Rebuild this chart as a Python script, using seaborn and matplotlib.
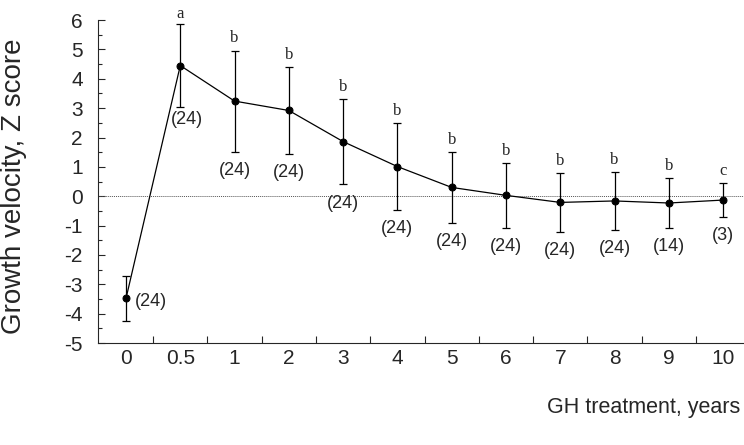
import numpy as np
import pandas as pd
import matplotlib
matplotlib.use("Agg")
import matplotlib.pyplot as plt
import seaborn as sns

# data
years = ["0", "0.5", "1", "2", "3", "4", "5", "6", "7", "8", "9", "10"]
mean_z = [-3.48, 4.45, 3.24, 2.92, 1.86, 1.01, 0.30, 0.03, -0.21, -0.16, -0.23, -0.13]
sd_z = [0.78, 1.41, 1.72, 1.48, 1.46, 1.48, 1.20, 1.10, 1.00, 0.98, 0.84, 0.58]
n_labels = ["(24)", "(24)", "(24)", "(24)", "(24)", "(24)", "(24)", "(24)", "(24)", "(24)", "(14)", "(3)"]
sig_letters = ["", "a", "b", "b", "b", "b", "b", "b", "b", "b", "b", "c"]

sns.set_theme(style="ticks")
plt.rcParams['font.family'] = ['Liberation Sans', 'DejaVu Sans']
plt.rcParams['axes.unicode_minus'] = False

df = pd.DataFrame({"pos": np.arange(len(years)), "z": mean_z, "sd": sd_z})

fig = plt.figure(figsize=(7.44, 4.45), dpi=100)
ax = fig.add_axes([0.1317, 0.229, 0.868, 0.726])

ax.axhline(0, color="#555555", lw=0.7, ls=(0, (1, 1)), zorder=1)
ax.errorbar(df["pos"], df["z"], yerr=df["sd"], fmt="none", ecolor="black",
            elinewidth=0.9, capsize=3, capthick=0.9, zorder=2)
sns.lineplot(data=df, x="pos", y="z", ax=ax, color="black", lw=0.9,
             marker="o", markersize=5, markeredgecolor="black", zorder=3)

for i, (m, s) in enumerate(zip(mean_z, sd_z)):
    if sig_letters[i]:
        ax.text(i, m + s + (0.08 if i == 1 else 0.14), sig_letters[i], ha="center", va="bottom",
                fontsize=12, family="Liberation Serif")
    if i == 0:
        ax.text(i + 0.17, m - 0.1, n_labels[i], ha="left", va="center", fontsize=13)
    elif i == 1:
        ax.text(i + 0.12, m - s - 0.15, n_labels[i], ha="center", va="top", fontsize=13)
    else:
        ax.text(i, m - s - 0.35, n_labels[i], ha="center", va="top", fontsize=13)

ax.set_xlim(-0.516, 11.38)
ax.set_ylim(-5, 6)
ax.set_xticks(np.arange(len(years)))
ax.set_xticklabels(years)
ax.set_xticks(np.arange(len(years) - 1) + 0.5, minor=True)
ax.tick_params(axis="x", which="major", length=0, pad=4, labelsize=15)
ax.tick_params(axis="x", which="minor", direction="in", length=5, width=0.8)
ax.set_yticks(np.arange(-5, 7, 1))
ax.set_yticks(np.arange(-5, 6.5, 0.5), minor=True)
ax.tick_params(axis="y", which="major", direction="in", length=5, width=0.8, labelsize=15, pad=11)
ax.tick_params(axis="y", which="minor", direction="in", length=3, width=0.8)

ax.set_xlabel("")
ax.set_ylabel("Growth velocity, Z score", fontsize=20)
ax.yaxis.set_label_coords(-0.11, 0.486)
fig.text(0.995, 0.06, "GH treatment, years", ha="right", va="bottom", fontsize=15.5)

sns.despine(ax=ax)
for sp in ["left", "bottom"]:
    ax.spines[sp].set_linewidth(0.8)

fig.savefig("out.png", dpi=100)
